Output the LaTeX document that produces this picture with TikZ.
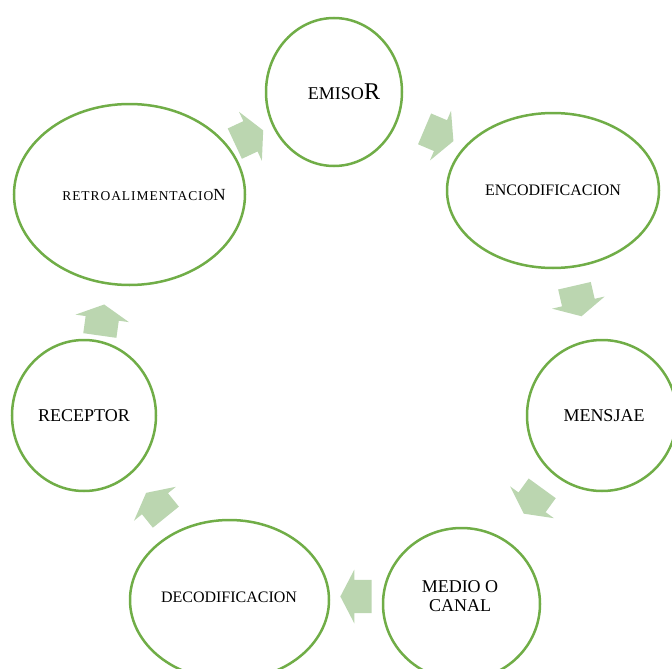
\documentclass[tikz,border=0pt]{standalone}
\usepackage{fontspec}
\setmainfont{Liberation Serif}
\definecolor{ringgreen}{RGB}{112,173,71}
\definecolor{arrowgreen}{RGB}{187,214,176}
\newcommand{\fsz}[2]{\fontsize{#1}{#2}\selectfont}
\tikzset{
  stage/.style={ellipse, draw=ringgreen, line width=2.5pt, fill=white, inner sep=0pt, align=center},
  cyclearrow/.pic={
    \fill[arrowgreen, scale=1.08] (-14.5,-15.5) -- (1.5,-15.5) -- (1.5,-25) -- (14.5,0)
      -- (1.5,25) -- (1.5,15.5) -- (-14.5,15.5) -- cycle;
  }
}
\usetikzlibrary{shapes.geometric}
\begin{document}
\begin{tikzpicture}[x=1pt,y=-1pt]
\useasboundingbox (0,0) rectangle (672,669);
\begin{scope}
\clip (0,0) rectangle (672,669);
% stages of the cycle
\node[stage, minimum width=136pt, minimum height=148pt] (emisor) at (334,92) {};
\node[stage, minimum width=212pt, minimum height=155pt] (encod) at (553,190.5) {};
\node[stage, minimum width=150pt, minimum height=151pt] (mensaje) at (602,415.5) {};
\node[stage, minimum width=157pt, minimum height=152pt] (medio) at (461.5,604) {};
\node[stage, minimum width=199pt, minimum height=160pt] (decod) at (229.5,600) {};
\node[stage, minimum width=144pt, minimum height=151pt] (receptor) at (84,415.5) {};
\node[stage, minimum width=231pt, minimum height=181pt] (retro) at (129.5,194.5) {};
% labels
\node (temisor) at (344,92) {\fsz{18}{20}EMISO\fsz{24}{26}R};
\node (tencod) at (553,190) {\fsz{16}{18}ENCODIFICACION};
\node (tmensaje) at (604,416) {\fsz{18}{20}MENSJAE};
\node[align=center, font=\fsz{18}{19.5}] (tmedio) at (460,596) {MEDIO O\\CANAL};
\node (tdecod) at (229,597) {\fsz{16}{18}DECODIFICACION};
\node (treceptor) at (84,416) {\fsz{18}{20}RECEPTOR};
\node (tretro) at (144,195) {\addfontfeature{LetterSpace=7}\fsz{13.5}{15}RETROALIMENTACIO\fsz{17}{18}N};
% block arrows between stages
\pic[rotate=25] at (249,137) {cyclearrow};
\pic[rotate=-23] at (439,135) {cyclearrow};
\pic[rotate=-77] at (578,301) {cyclearrow};
\pic[rotate=-126] at (533,501) {cyclearrow};
\pic[rotate=180] at (356,596.5) {cyclearrow};
\pic[rotate=129] at (156,505) {cyclearrow};
\pic[rotate=82] at (102,320) {cyclearrow};
\end{scope}
\end{tikzpicture}
\end{document}
